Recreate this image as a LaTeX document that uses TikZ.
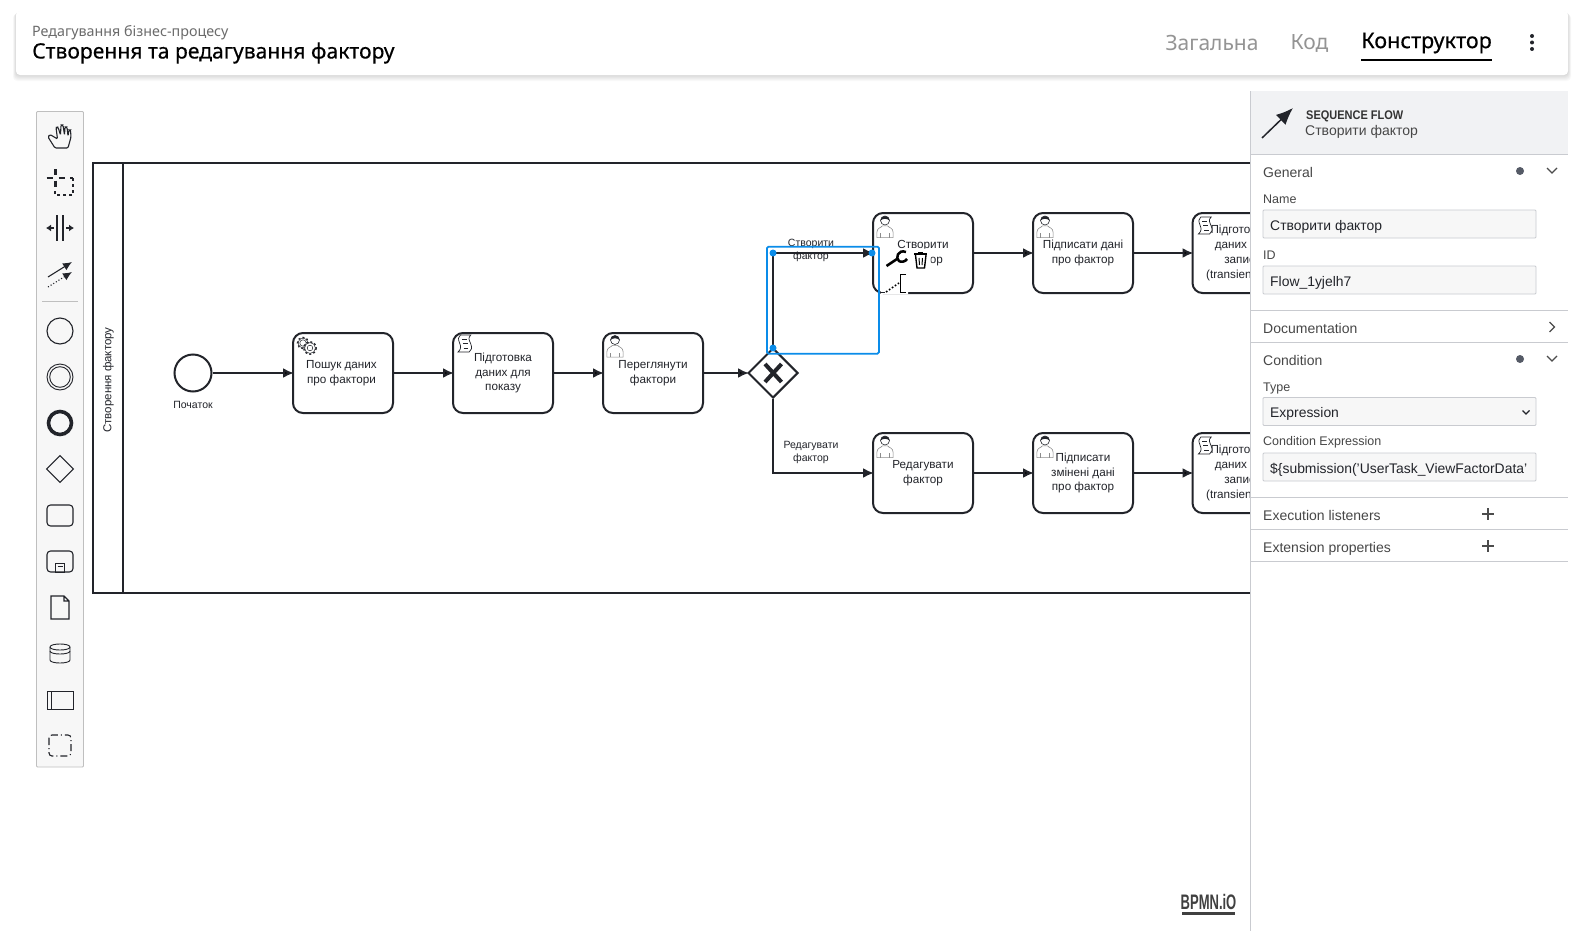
\documentclass[tikz,border=0pt]{standalone}
\usepackage{fontspec}
\setmainfont{Liberation Sans}
\newfontfamily\headfont{Noto Sans}
\newfontfamily\headbold[FakeBold=0.35]{Noto Sans}
\newfontfamily\narrowfont[FakeStretch=0.88]{Liberation Sans}
\newfontfamily\logofont[FakeStretch=0.62]{Liberation Sans}
\usetikzlibrary{arrows.meta,shapes.geometric}
\definecolor{ink}{HTML}{22242A}
\definecolor{pick}{HTML}{0A8CE9}
\definecolor{rim}{HTML}{C9CBD0}
\definecolor{sheet}{HTML}{F1F2F4}
\definecolor{slate}{HTML}{555A66}
\tikzset{
  task/.style={draw=ink,line width=2pt,rounded corners=10pt,fill=white,minimum width=100pt,minimum height=80pt,inner sep=0pt,align=center,font=\fontsize{11.7}{14.7}\selectfont,text=ink},
  flow/.style={draw=ink,line width=2.1pt,shorten >=-2pt,-{Latex[length=11pt,width=10pt]}},
  flowtext/.style={font=\fontsize{10.5}{13}\selectfont,align=center,text=ink,inner sep=0pt},
  tool/.style={draw=ink,line width=1.1pt},
  hd/.style={anchor=west,inner sep=0pt,font=\fontsize{14}{16}\selectfont,text=black!72},
  lbl/.style={anchor=west,inner sep=0pt,font=\fontsize{12.5}{15}\selectfont,text=black!72},
  field/.style={draw=rim,fill=black!3,line width=.8pt,rounded corners=1pt,minimum width=273pt,minimum height=28pt,inner sep=0pt},
  val/.style={anchor=west,inner sep=0pt,font=\fontsize{13.9}{16}\selectfont,text=ink},
  tab/.style={inner sep=0pt,font=\headfont\fontsize{21}{24}\selectfont},
  rule/.style={draw=rim,line width=.9pt},
  marker/.style={circle,fill=slate,minimum size=8pt,inner sep=0pt},
  pickdot/.style={circle,fill=pick,minimum size=7pt,inner sep=0pt},
  usericon/.pic={
    \draw[black!45,line width=.6pt,fill=white] (-9,19) -- (-9,13) .. controls (-9,8) and (-4,8) .. (-3,6) -- (3,6) .. controls (4,8) and (9,8) .. (9,13) -- (9,19) -- cycle;
    \draw[black!45,line width=.6pt] (-5,19) -- (-5,14) (5,19) -- (5,14);
    \draw[ink,line width=.6pt,fill=white] (0,0) circle (5);
    \fill[ink] (-5,0) .. controls (-5,-6.5) and (5,-6.5) .. (5,0) .. controls (2,-2.5) and (-2,-2.5) .. (-5,0) -- cycle;
  },
  scripticon/.pic={
    \draw[ink,line width=.7pt,fill=white] (-4,0) -- (9,0) .. controls (5,3) and (7,5) .. (9,9) .. controls (11,13) and (10,15) .. (7,17) -- (-7,17) .. controls (-3,14) and (-3,12) .. (-5,8) .. controls (-7,4) and (-7,2) .. (-4,0) -- cycle;
    \draw[ink,line width=.7pt] (-2,4) -- (4,4) (-1,8.5) -- (5,8.5) (0,13) -- (6,13);
  },
  gearicon/.pic={
    \draw[ink,line width=.5pt] (0,0) circle (3.2) (0,0) circle (4.9);
    \draw[ink,line width=1.3pt,dash pattern=on 2pt off 2.2pt] (0,0) circle (5.6);
    \draw[ink,line width=.5pt,fill=white] (7,5) circle (5.4);
    \draw[ink,line width=.5pt] (7,5) circle (2.8);
    \draw[ink,line width=1.3pt,dash pattern=on 2pt off 2.2pt] (7,5) circle (6.2);
  },
}
\begin{document}
\begin{tikzpicture}[x=1pt,y=-1pt]
\useasboundingbox (0,0) rectangle (1581,934);
\fill[white] (0,0) rectangle (1581,934);
% top bar
\foreach \s in {1,...,6}
  \fill[black,opacity=.025,rounded corners=4pt] (16-\s/2,11+\s/2) rectangle (1568+\s/2,75+\s);
\node[draw=none,fill=white,rounded corners=4pt,minimum width=1552pt,minimum height=64pt] at (792,43) (bar) {};
\node[anchor=west,inner sep=0pt,font=\headfont\fontsize{14.3}{16}\selectfont,text=black!58] at (32,33) (crumb) {Редагування бізнес-процесу};
\node[anchor=west,inner sep=0pt,font=\headbold\fontsize{21.1}{24}\selectfont,text=black] at (32,53) (title) {Створення та редагування фактору};
\node[tab,text=black!42] at (1212,43) (general) {Загальна};
\node[tab,text=black!42] at (1309.5,43) (code) {Код};
\node[tab,font=\headbold\fontsize{21.6}{24}\selectfont,text=black] at (1426.5,43) (builder) {Конструктор};
\draw[black,line width=2pt] (1361,60) -- (1492,60);
\fill[ink] (1532,36) circle (2) (1532,42.5) circle (2) (1532,49) circle (2);
% tool palette
\draw[draw=black!25,fill=black!3,line width=.9pt,rounded corners=1pt] (36.5,111.5) rectangle (83.5,767);
\draw[tool,rounded corners=1.2pt] (68,148) -- (71,137) -- (70.5,130) -- (69,130) -- (68,136) -- (67,127) -- (65,127) -- (64.5,135) -- (63,125) -- (61,125) -- (60.5,135) -- (58,127) -- (56,127.5) -- (57.5,139) -- (50,134.5) -- (48,137) -- (55,148) -- cycle;
\draw[ink,line width=2.2pt] (46.5,177.7) -- (52.5,177.7) (58.5,177.7) -- (64.5,177.7) (55.5,169) -- (55.5,175) (55.5,180.5) -- (55.5,186.5);
\draw[ink,line width=1.2pt,dash pattern=on 3pt off 3pt] (73,178) -- (67,178) (73,178) -- (73,195) -- (55,195) -- (55,189);
\draw[tool] (57,215) -- (57,241) (63,215) -- (63,241);
\draw[ink,line width=1.4pt,-{Latex[length=5pt,width=7pt]}] (54,228) -- (46,228);
\draw[ink,line width=1.4pt,-{Latex[length=5pt,width=7pt]}] (66,228) -- (74,228);
\draw[ink,line width=1.1pt,-{Latex[length=9pt,width=8pt]}] (48,277) -- (72,262);
\draw[ink,line width=1.1pt,dotted,-{Latex[length=9pt,width=8pt]}] (48,287) -- (72,272);
\draw[black!25,line width=.9pt] (42,301.5) -- (78,301.5);
\draw[tool] (60,331) circle (13);
\draw[tool,line width=.9pt] (60,377) circle (13) (60,377) circle (10.3);
\draw[ink,line width=3.6pt] (60,423) circle (11.5);
\draw[tool] (60,455.7) -- (73.3,469) -- (60,482.3) -- (46.7,469) -- cycle;
\draw[tool,rounded corners=3.5pt] (47,505) rectangle (73,526);
\draw[tool,rounded corners=3.5pt] (47,551) rectangle (73,572);
\draw[tool,line width=.9pt] (55.5,563) rectangle (64.5,572) (57.5,566.5) -- (62.5,566.5);
\draw[tool] (51,596) -- (64,596) -- (69,601) -- (69,619) -- (51,619) -- cycle (64,596) -- (64,601) -- (69,601);
\draw[tool,line width=.9pt] (50,647) .. controls (50,643) and (70,643) .. (70,647) -- (70,660) .. controls (70,664) and (50,664) .. (50,660) -- cycle;
\draw[tool,line width=.9pt] (50,647) .. controls (50,651) and (70,651) .. (70,647) (50,651) .. controls (50,655) and (70,655) .. (70,651);
\draw[tool,line width=.9pt] (47,691) rectangle (73,709) (51.5,691) -- (51.5,709);
\draw[tool,rounded corners=3pt,dash pattern=on 7pt off 3pt on 1pt off 3pt] (49,735) rectangle (71,756);
% pool
\draw[ink,line width=1.8pt] (1260,163) -- (93,163) -- (93,593) -- (1260,593);
\draw[ink,line width=1.8pt] (123,163) -- (123,593);
\node[rotate=90,inner sep=0pt,font=\fontsize{11.5}{14}\selectfont,text=ink] at (108.5,380) (lane) {Створення фактору};
% process
\node[circle,draw=ink,line width=2pt,fill=white,minimum size=37pt,inner sep=0pt] at (193,373) (start) {};
\node[inner sep=0pt,font=\fontsize{10.5}{13}\selectfont,text=ink] at (193,404.5) (startlabel) {Початок};
\node[task] at (343,373) (search) {Пошук даних\hspace*{3pt}\\про фактори\hspace*{3pt}};
\node[task] at (503,373) (prepare) {Підготовка\\даних для\\показу};
\node[task] at (653,373) (review) {Переглянути\\фактори};
\node[diamond,aspect=1,draw=ink,line width=2pt,fill=white,minimum size=50pt,inner sep=0pt] at (773,373) (gate) {};
\draw[ink,line width=4pt] (765,364) -- (781.5,382) (781.5,364) -- (765,382);
\node[task] at (923,253) (create) {Створити\\фактор};
\node[task] at (1083,253) (sign) {Підписати дані\\про фактор};
\node[task] at (1242.5,253) (store) {Підготовка\hspace*{6pt}\\даних для\\запису\\(transient)\hspace*{20pt}};
\node[task] at (923,473) (edit) {Редагувати\\фактор};
\node[task] at (1083,473) (signedit) {Підписати\\змінені дані\\про фактор};
\node[task] at (1242.5,473) (storeedit) {Підготовка\hspace*{6pt}\\даних для\\запису\\(transient)\hspace*{20pt}};
\path[flow] (start) edge (search)
            (search) edge (prepare)
            (prepare) edge (review)
            (review) edge (gate)
            (create) edge (sign)
            (sign) edge (store)
            (edit) edge (signedit)
            (signedit) edge (storeedit);
\draw[flow] (gate.south) |- (edit.west);
\draw[flow] (gate.north) |- (create.west);
% task markers
\pic at (303,343) {gearicon};
\pic[xscale=.8] at (463.6,335) {scripticon};
\pic[scale=.9] at (615,340) {usericon};
\pic[scale=.9] at (885,220.5) {usericon};
\pic[scale=.9] at (1045,220.5) {usericon};
\pic[xscale=.8] at (1204,217) {scripticon};
\pic[scale=.9] at (885,440.5) {usericon};
\pic[scale=.9] at (1045,440.5) {usericon};
\pic[xscale=.8] at (1204,437) {scripticon};
\node[flowtext] at (811,250) (createlabel) {Створити\\фактор};
\node[flowtext] at (811,452.5) (editlabel) {Редагувати\\фактор};
% context pad
\fill[white] (881,248.5) rectangle (930.5,272) (881,272) rectangle (908,294);
\draw[ink,line width=.8pt] (881,292.5) -- (885,292.5);
\draw[black,line width=2.6pt] (886.5,266) -- (897,259);
\draw[black,line width=2.5pt] (906,252) .. controls (898,249) and (895,258) .. (899,261) .. controls (901,262.5) and (905,262) .. (907,259);
\draw[black,line width=1.6pt] (914,254) -- (927,254);
\draw[black,line width=2pt] (918,252.5) -- (923,252.5);
\draw[black,line width=1.4pt] (915.5,255) -- (917,268) -- (924.5,268) -- (926,255);
\draw[black,line width=1pt] (919,258) -- (919.5,265) (922.5,258) -- (922,265);
\draw[black,line width=1.6pt,dotted] (886,292) -- (899,283);
\draw[black,line width=1.1pt] (906,274.5) -- (900.5,274.5) -- (900.5,292.5) -- (906,292.5);
% selection
\draw[pick,line width=1.8pt,rounded corners=1.5pt] (767,246.7) rectangle (879,353.7);
\node[pickdot] at (gate.north |- create) (bend) {};
\node[pickdot] at (create.west) (tip) {};
\node[pickdot] at (773,348) (tail) {};
% panel
\fill[white] (1250,91) rectangle (1568,931);
\draw[rim,line width=1pt] (1250,91) -- (1250,931);
\fill[sheet] (1250.5,91) rectangle (1568,154);
\draw[ink,line width=1.5pt,-{Latex[length=17pt,width=14pt]}] (1262,138) -- (1293,108);
\node[anchor=west,inner sep=0pt,font=\narrowfont\bfseries\fontsize{12.5}{15}\selectfont,text=black!80] at (1306,116) (kind) {SEQUENCE FLOW};
\node[anchor=west,inner sep=0pt,font=\fontsize{14}{16}\selectfont,text=black!72] at (1305,132) (flowname) {Створити фактор};
\draw[rule] (1250,154) -- (1568,154) (1250,310) -- (1568,310) (1250,342) -- (1568,342) (1250,497) -- (1568,497) (1250,529) -- (1568,529) (1250,561) -- (1568,561);
\node[hd] at (1263,172) (generalhd) {General};
\node[marker] at (1520,171) (generaldot) {};
\draw[black!70,line width=1.3pt] (1547,168) -- (1552,173) -- (1557,168);
\node[lbl] at (1263,199.5) (namelbl) {Name};
\node[field] at (1399.5,224) (namebox) {};
\node[val] at (1270,227) (nameval) {Створити фактор};
\node[lbl] at (1263,255) (idlbl) {ID};
\node[field] at (1399.5,280) (idbox) {};
\node[val] at (1270,283) (idval) {Flow\_1yjelh7};
\node[hd] at (1263,328) (dochd) {Documentation};
\draw[black!70,line width=1.3pt] (1549.5,322) -- (1554.5,327) -- (1549.5,332);
\node[hd] at (1263,360) (condhd) {Condition};
\node[marker] at (1520,359) (conddot) {};
\draw[black!70,line width=1.3pt] (1547,356) -- (1552,361) -- (1557,356);
\node[lbl] at (1263,388) (typelbl) {Type};
\node[field] at (1399.5,411.5) (typebox) {};
\node[val] at (1270,413.5) (typeval) {Expression};
\draw[ink,line width=1.3pt] (1522.5,410.5) -- (1526,414) -- (1529.5,410.5);
\node[lbl] at (1263,442) (exprlbl) {Condition Expression};
\node[field] at (1399.5,467) (exprbox) {};
\node[val] at (1270,470) (exprval) {\$\{submission('UserTask\_ViewFactorData'};
\node[hd] at (1263,515) (listenhd) {Execution listeners};
\draw[black!70,line width=1.3pt] (1488,508) -- (1488,520) (1482,514) -- (1494,514);
\node[hd] at (1263,548.5) (exthd) {Extension properties};
\draw[black!70,line width=1.3pt] (1488,540) -- (1488,552) (1482,546) -- (1494,546);
% logo
\node[inner sep=0pt,font=\logofont\bfseries\fontsize{21}{24}\selectfont,text=black!75] at (1208.5,902) (logo) {BPMN.iO};
\fill[black!75] (1182,912) rectangle (1235,915);
\end{tikzpicture}
\end{document}
